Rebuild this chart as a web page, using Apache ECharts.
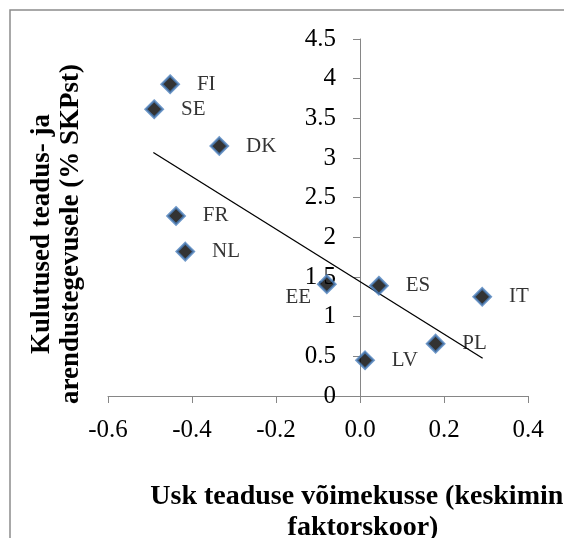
<!DOCTYPE html>
<html>
<head>
<meta charset="utf-8">
<script src="https://cdn.jsdelivr.net/npm/echarts@6/dist/echarts.min.js"></script>
<style>
  html, body { margin: 0; padding: 0; background: #fff; }
  #chart { width: 564px; height: 538px; }
</style>
</head>
<body>
<div id="chart"></div>
<script>
// riigid ja väärtused (loetud pildilt)
var countries = ['FI', 'SE', 'DK', 'FR', 'NL', 'EE', 'ES', 'IT', 'PL', 'LV'];
var trust = [-0.452, -0.490, -0.335, -0.438, -0.416, -0.079, 0.045, 0.291, 0.180, 0.012];
var rdSpend = [3.93, 3.615, 3.15, 2.27, 1.82, 1.41, 1.39, 1.25, 0.66, 0.45];

// trendijoone otspunktid
var trendX = [-0.492, 0.292];
var trendY = [3.07, 0.475];

var xTicks = { min: -0.6, max: 0.4, step: 0.2 };
var yTicks = { min: 0, max: 4.5, step: 0.5 };

var font = '"Liberation Serif", "Times New Roman", serif';
var axisGray = '#868686';

var gridLeft = 108, gridRight = 36;
var plotW = 564 - gridLeft - gridRight;
// y-telg asub x = 0 kohal
var yAxisShift = -plotW * (0 - xTicks.min) / (xTicks.max - xTicks.min);

var chart = echarts.init(document.getElementById('chart'));

var points = [];
for (var i = 0; i < countries.length; i++) {
  var p = { name: countries[i], value: [trust[i], rdSpend[i]] };
  if (countries[i] === 'EE') {
    // EE silt on vasakul ja veidi allpool
    p.label = { position: 'left', distance: 6, offset: [0, 13] };
  }
  points.push(p);
}

var trendData = [];
for (var j = 0; j < trendX.length; j++) {
  trendData.push([trendX[j], trendY[j]]);
}

var option = {
  animation: false,
  backgroundColor: '#fff',
  grid: {
    left: gridLeft,
    right: gridRight,
    top: 39,
    bottom: 142
  },
  xAxis: {
    type: 'value',
    min: xTicks.min,
    max: xTicks.max,
    interval: xTicks.step,
    axisLine: { show: true, onZero: false, lineStyle: { color: axisGray, width: 1 } },
    axisTick: { show: true, length: 7, lineStyle: { color: axisGray } },
    splitLine: { show: false },
    axisLabel: {
      margin: 22,
      fontFamily: font,
      fontSize: 25,
      color: '#000',
      formatter: function (v) { return v.toFixed(1); }
    }
  },
  yAxis: {
    type: 'value',
    position: 'left',
    offset: yAxisShift,
    min: yTicks.min,
    max: yTicks.max,
    interval: yTicks.step,
    axisLine: { show: true, onZero: false, lineStyle: { color: axisGray, width: 1 } },
    axisTick: { show: true, length: 7, lineStyle: { color: axisGray } },
    splitLine: { show: false },
    axisLabel: {
      margin: 24,
      fontFamily: font,
      fontSize: 25,
      color: '#000'
    }
  },
  series: [
    {
      type: 'line',
      data: trendData,
      showSymbol: false,
      symbol: 'none',
      lineStyle: { color: '#000', width: 1.3 },
      z: 1,
      silent: true
    },
    {
      type: 'scatter',
      data: points,
      symbol: 'diamond',
      symbolSize: 17,
      itemStyle: {
        color: '#000',
        borderColor: '#4A7EBB',
        borderWidth: 2.5
      },
      label: {
        show: true,
        position: 'right',
        distance: 17,
        formatter: '{b}',
        fontFamily: font,
        fontSize: 21,
        color: '#000'
      },
      z: 3
    }
  ],
  graphic: [
    {
      type: 'rect',
      shape: { x: 10, y: 10, width: 620, height: 620 },
      style: { fill: 'none', stroke: '#8c8c8c', lineWidth: 1.5 },
      silent: true,
      z: -1
    },
    {
      type: 'text',
      x: 363,
      y: 481,
      style: {
        text: 'Usk teaduse võimekusse (keskimine\nfaktorskoor)',
        font: 'bold 28px ' + font,
        fill: '#000',
        align: 'center',
        verticalAlign: 'top',
        lineHeight: 31
      }
    },
    {
      type: 'text',
      x: 57,
      y: 234,
      rotation: Math.PI / 2,
      style: {
        text: 'Kulutused teadus- ja\narendustegevusele (% SKPst)',
        font: 'bold 27px ' + font,
        fill: '#000',
        align: 'center',
        verticalAlign: 'middle',
        lineHeight: 29
      }
    }
  ]
};

chart.setOption(option);
</script>
</body>
</html>
